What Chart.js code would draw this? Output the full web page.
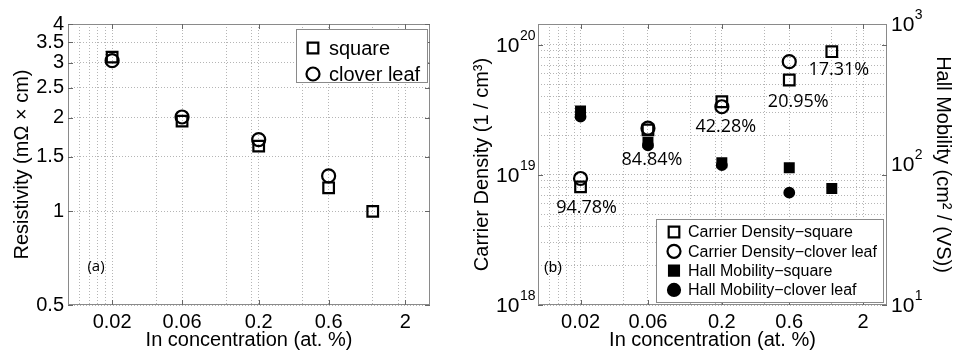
<!DOCTYPE html>
<html>
<head>
<meta charset="utf-8">
<script src="https://cdn.jsdelivr.net/npm/chart.js@4.4.0/dist/chart.umd.min.js"></script>
<style>
body{margin:0;background:#fff;}
#wrap{position:relative;width:955px;height:355px;}
canvas{position:absolute;top:0;}
#left{left:0;}
#right{left:470px;}
</style>
</head>
<body>
<div id="wrap">
<canvas id="left" width="470" height="355"></canvas>
<canvas id="right" width="485" height="355"></canvas>
</div>
<script>

/* DATA */

let concentration = [0.02, 0.06, 0.2, 0.6, 1.2];

let resistivitySquare = [3.13, 1.95, 1.62, 1.19, 1.0];
let resistivityClover = [3.05, 2.01, 1.70, 1.30];

let densitySquare = [8.1e18, 2.22e19, 3.66e19, 5.38e19, 8.88e19];
let densityClover = [9.4e18, 2.29e19, 3.35e19, 7.44e19];

let mobilitySquare = [240, 144, 103, 94.7, 67.4];
let mobilityClover = [219, 137, 99, 63];

let activation = ["94.78%", "84.84%", "42.28%", "20.95%", "17.31%"];

let xTickValues = [0.02, 0.06, 0.2, 0.6, 2];
let xTickLabels = ["0.02", "0.06", "0.2", "0.6", "2"];
let xGridValues = [0.012, 0.014, 0.016, 0.018, 0.02, 0.04, 0.06, 0.12, 0.18, 0.2, 0.4, 0.6, 1.2, 1.8, 2];

let resTicks = [0.5, 1, 1.5, 2, 2.5, 3, 3.5, 4];

let densityTicks = [1e18, 1e19, 1e20];
let densityExp = ["18", "19", "20"];

let mobilityTicks = [10, 100, 1000];
let mobilityExp = ["1", "2", "3"];


/* HELPERS */

Chart.defaults.font.family = "'Liberation Sans', Arial, sans-serif";
Chart.defaults.color = "#000";

function pts(xs, ys){
return ys.map((v,i)=>({x:xs[i], y:v}));
}

function labelFor(values, labels){
return function(v){
let i = values.findIndex(t => Math.abs(t - v) / t < 1e-6);
return i < 0 ? "" : labels[i];
};
}

// log grid lines 1..9 per decade
function decadeGrid(lo, hi){
let out = [];
for(let d = lo; d <= hi; d *= 10){
for(let k = 1; k <= 9; k++){
if(d * k <= hi * 1.0001) out.push(d * k);
}
}
return out;
}

function marker(ctx, style, x, y, r, filled, lw){
ctx.beginPath();
if(style === "rect"){
let s = r * Math.SQRT1_2;
ctx.rect(x - s, y - s, 2 * s, 2 * s);
}else{
ctx.arc(x, y, r, 0, Math.PI * 2);
}
ctx.fillStyle = filled ? "#000" : "#fff";
ctx.fill();
ctx.lineWidth = lw;
ctx.strokeStyle = "#000";
ctx.stroke();
}


/* FRAME, LEGEND, TEXT */

const framePlugin = {
id: "frame",
afterDatasetsDraw(chart){
let o = chart.options.plugins.frame;
if(!o) return;
let ctx = chart.ctx;
let a = chart.chartArea;
ctx.save();
ctx.setLineDash([]);

// box
ctx.strokeStyle = "#8a8a8a";
ctx.lineWidth = 1;
ctx.strokeRect(Math.round(a.left) + 0.5, Math.round(a.top) + 0.5, Math.round(a.width) - 1, Math.round(a.height) - 1);

// inner tick marks
ctx.strokeStyle = "#666";
let xs = chart.scales.x;
xTickValues.forEach(v => {
let px = Math.round(xs.getPixelForValue(v)) + 0.5;
ctx.beginPath();
ctx.moveTo(px, a.bottom); ctx.lineTo(px, a.bottom - 5);
ctx.moveTo(px, a.top); ctx.lineTo(px, a.top + 5);
ctx.stroke();
});
(o.yTicks || []).forEach(t => {
let sc = chart.scales[t.axis];
let py = Math.round(sc.getPixelForValue(t.value)) + 0.5;
ctx.beginPath();
ctx.moveTo(a.left, py); ctx.lineTo(a.left + 5, py);
ctx.moveTo(a.right, py); ctx.lineTo(a.right - 5, py);
ctx.stroke();
});

// power-of-ten tick labels
ctx.fillStyle = "#000";
ctx.textBaseline = "middle";
(o.powers || []).forEach(p => {
let sc = chart.scales[p.axis];
p.values.forEach((v, i) => {
let py = sc.getPixelForValue(v);
ctx.font = "14px 'Liberation Sans'";
let ew = ctx.measureText(p.exp[i]).width;
ctx.font = "21px 'Liberation Sans'";
let bw = ctx.measureText("10").width;
let x0 = p.side === "left" ? a.left - 3 - ew - bw : a.right + 4;
ctx.textAlign = "left";
ctx.fillText("10", x0, py + 1);
ctx.font = "14px 'Liberation Sans'";
ctx.fillText(p.exp[i], x0 + bw + 0.5, py - 9);
});
});

// text labels
(o.texts || []).forEach(t => {
ctx.font = t.font;
ctx.fillStyle = "#000";
ctx.textAlign = "center";
ctx.textBaseline = "middle";
let x, y;
if(t.dataset !== undefined){
let el = chart.getDatasetMeta(t.dataset).data[t.index];
x = el.x + t.dx; y = el.y + t.dy;
}else{
x = a.left + t.dx; y = a.top + t.dy;
}
ctx.fillText(t.text, x, y);
});

// legend
let L = o.legend;
if(L){
let bx = a.left + L.x, by = a.top + L.y;
ctx.fillStyle = "#fff";
ctx.fillRect(bx, by, L.w, L.h);
ctx.strokeStyle = "#8a8a8a";
ctx.lineWidth = 1;
ctx.strokeRect(Math.round(bx) + 0.5, Math.round(by) + 0.5, L.w, L.h);
ctx.font = L.font;
ctx.textAlign = "left";
ctx.textBaseline = "middle";
chart.data.datasets.forEach((d, i) => {
let ry = by + L.first + i * L.step;
marker(ctx, d.pointStyle, a.left + L.markerX, ry, d.legendRadius, d.filled, d.pointBorderWidth);
ctx.fillStyle = "#000";
ctx.fillText(d.label, a.left + L.textX, ry + 1);
});
}
ctx.restore();
}
};

function ds(label, data, style, r, filled, axis){
return {
label: label,
data: data,
yAxisID: axis || "y",
pointStyle: style,
pointRadius: r,
legendRadius: r,
filled: filled,
pointBackgroundColor: filled ? "#000" : "rgba(0,0,0,0)",
pointBorderColor: "#000",
pointBorderWidth: 2.2,
showLine: false
};
}

function xScale(){
return {
type: "logarithmic",
min: 0.01,
max: 2.95,
afterBuildTicks: s => { s.ticks = xGridValues.map(v => ({value: v})); },
afterFit: s => { s.height = 50; },
ticks: {
autoSkip: false,
maxRotation: 0,
padding: 5,
font: {size: 20},
callback: labelFor(xTickValues, xTickLabels)
},
grid: {color: "#b5b5b5", drawTicks: false, lineWidth: 1},
border: {display: false, dash: [1, 2]},
title: {display: true, text: "In concentration (at. %)", font: {size: 20}, padding: {top: 0, bottom: 3}}
};
}


/* LEFT PANEL: RESISTIVITY */

new Chart(document.getElementById("left"), {
type: "scatter",
data: {
datasets: [
ds("square", pts(concentration, resistivitySquare), "rect", 7.5, false),
ds("clover leaf", pts(concentration, resistivityClover), "circle", 6.5, false)
]
},
options: {
responsive: false,
animation: false,
devicePixelRatio: 1,
layout: {padding: {top: 24, right: 40, left: 0, bottom: 0}},
plugins: {
legend: {display: false},
tooltip: {enabled: false},
frame: {
yTicks: resTicks.map(v => ({axis: "y", value: v})),
texts: [{text: "(a)", font: "15px 'Open Sans'", dx: 28, dy: 243}],
legend: {x: 228, y: 5, w: 131, h: 53, first: 19, step: 26, markerX: 245, textX: 261, font: "20px 'Liberation Sans'"}
}
},
scales: {
x: xScale(),
y: {
type: "logarithmic",
min: 0.5,
max: 4,
afterBuildTicks: s => { s.ticks = resTicks.map(v => ({value: v})); },
afterFit: s => { s.width = 68; },
ticks: {
autoSkip: false,
padding: 4,
font: {size: 20},
callback: v => String(v)
},
grid: {color: "#b5b5b5", drawTicks: false},
border: {display: false, dash: [1, 2]},
title: {display: true, text: "Resistivity (mΩ × cm)", font: {size: 20}, padding: {top: 10, bottom: 0}}
}
}
},
plugins: [framePlugin]
});


/* RIGHT PANEL: CARRIER DENSITY + HALL MOBILITY */

let rightSets = [
ds("Carrier Density−square", pts(concentration, densitySquare), "rect", 7.5, false, "y"),
ds("Carrier Density−clover leaf", pts(concentration, densityClover), "circle", 6.5, false, "y"),
ds("Hall Mobility−square", pts(concentration, mobilitySquare), "rect", 6.2, true, "y2"),
ds("Hall Mobility−clover leaf", pts(concentration, mobilityClover), "circle", 4.8, true, "y2")
];
rightSets[2].legendRadius = 7;
rightSets[3].legendRadius = 6;

let labelOffsets = [[6, 21], [4, 30], [4, 25], [9, 22], [7, 18]];

new Chart(document.getElementById("right"), {
type: "scatter",
data: {datasets: rightSets},
options: {
responsive: false,
animation: false,
devicePixelRatio: 1,
layout: {padding: {top: 24, right: 0, left: 0, bottom: 0}},
plugins: {
legend: {display: false},
tooltip: {enabled: false},
frame: {
yTicks: densityTicks.map(v => ({axis: "y", value: v})),
powers: [
{axis: "y", side: "left", values: densityTicks, exp: densityExp},
{axis: "y2", side: "right", values: mobilityTicks, exp: mobilityExp}
],
texts: [{text: "(b)", font: "15px 'Liberation Sans'", dx: 15, dy: 244}].concat(
activation.map((t, i) => ({text: t, font: "18px 'Open Sans'", dataset: 0, index: i, dx: labelOffsets[i][0], dy: labelOffsets[i][1]}))
),
legend: {x: 118, y: 195, w: 227, h: 83, first: 13, step: 19.3, markerX: 136, textX: 150, font: "16px 'Liberation Sans'"}
}
},
scales: {
x: xScale(),
y: {
type: "logarithmic",
position: "left",
min: 1e18,
max: 1.45e20,
afterBuildTicks: s => { s.ticks = decadeGrid(1e18, 1.45e20).map(v => ({value: v})); },
afterFit: s => { s.width = 68; },
ticks: {display: false},
grid: {color: "#b5b5b5", drawTicks: false},
border: {display: false, dash: [1, 2]},
title: {display: true, text: "Carrier Density (1 / cm³)", font: {size: 20}, padding: {top: 0, bottom: 0}}
},
y2: {
type: "logarithmic",
position: "right",
min: 10,
max: 1000,
afterBuildTicks: s => { s.ticks = mobilityTicks.map(v => ({value: v})); },
afterFit: s => { s.width = 68; },
ticks: {display: false},
grid: {drawOnChartArea: false, drawTicks: false},
border: {display: false},
title: {display: true, text: "Hall Mobility (cm² / (VS))", font: {size: 20}, padding: {top: 0, bottom: 0}}
}
}
},
plugins: [framePlugin]
});

</script>
</body>
</html>
